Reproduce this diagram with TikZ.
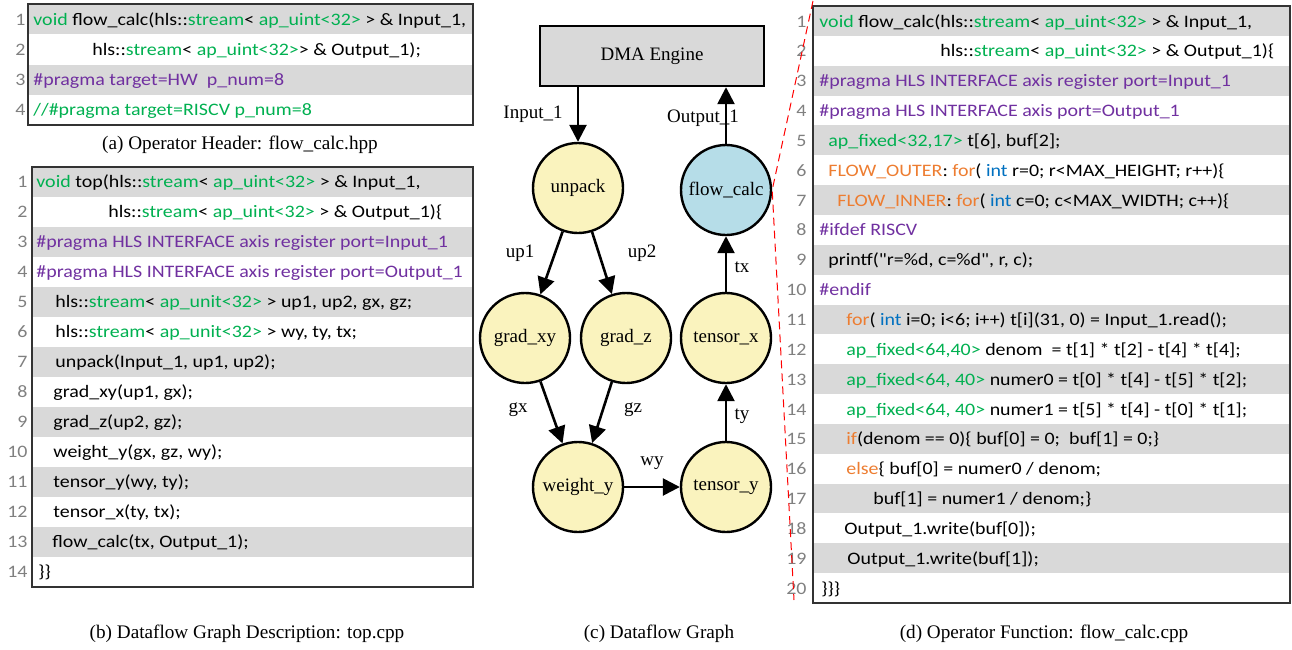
\documentclass[tikz,border=0pt]{standalone}
\usepackage{fontspec}
\setmainfont{Liberation Serif}
\newfontfamily\codefont[FakeStretch=1.14]{Carlito}
\usepackage{tikz}
\usetikzlibrary{positioning,arrows.meta}

\definecolor{rowgray}{RGB}{217,217,217}
\definecolor{kwgreen}{RGB}{0,176,80}
\definecolor{kwpurple}{RGB}{112,48,160}
\definecolor{kworange}{RGB}{237,125,49}
\definecolor{kwblue}{RGB}{0,112,192}
\definecolor{numgray}{RGB}{128,128,128}
\definecolor{opyellow}{RGB}{250,243,190}
\definecolor{opblue}{RGB}{182,221,232}

\newcommand{\cgreen}[1]{\textcolor{kwgreen}{#1}}
\newcommand{\cpurple}[1]{\textcolor{kwpurple}{#1}}
\newcommand{\corange}[1]{\textcolor{kworange}{#1}}
\newcommand{\cblue}[1]{\textcolor{kwblue}{#1}}

\begin{document}
\begin{tikzpicture}[x=0.5pt, y=-0.5pt,
  codeline/.style={anchor=base west, inner sep=0pt, font={\codefont\fontsize{8.75pt}{10pt}\selectfont}},
  linenum/.style={anchor=base east, inner sep=0pt, text=numgray, font={\codefont\fontsize{8.75pt}{10pt}\selectfont}},
  opnode/.style={circle, draw, line width=1.2pt, fill=opyellow, minimum size=45pt, inner sep=0pt, font={\fontsize{9.5pt}{11pt}\selectfont}},
  dataflow/.style={-{Triangle[length=8.5pt,width=8.5pt]}, line width=1.3pt},
  flowlabel/.style={inner sep=0pt, font={\fontsize{9.5pt}{11pt}\selectfont}},
  subcaption/.style={inner sep=0pt, font={\fontsize{9.6pt}{11pt}\selectfont}}]

\useasboundingbox (0,0) rectangle (1292,649);

% (a) operator header
\foreach \i in {1,3}
  \fill [rowgray] (28,{4+(\i-1)*30.25}) rectangle (473,{4+\i*30.25});
\foreach \i in {1,...,4}
  \node [linenum] (na\i) at (26,{25+(\i-1)*30.25}) {\i};
\draw [line width=0.8pt, black!80] (28,4) rectangle (473,125);

\node [codeline] (a1) at (33,25) {\cgreen{void} flow\_calc(hls::\cgreen{stream}< \cgreen{ap\_uint<32>} > \& Input\_1,};
\node [codeline] (a2) at (92,55.25) {hls::\cgreen{stream}< \cgreen{ap\_uint<32>}> \& Output\_1);};
\node [codeline] (a3) at (33,85.5) {\cpurple{\#pragma target=HW\ \ p\_num=8}};
\node [codeline] (a4) at (33,115.75) {\cgreen{//\#pragma target=RISCV p\_num=8}};

\node [subcaption] (capa) at (240,145) {(a) Operator Header: flow\_calc.hpp};

% (b) top.cpp
\foreach \i in {1,3,...,13}
  \fill [rowgray] (32,{167+(\i-1)*30}) rectangle (473,{167+\i*30});
\foreach \i in {1,...,14}
  \node [linenum] (nb\i) at (28,{187+(\i-1)*30}) {\i};
\draw [line width=0.8pt, black!80] (32,167) rectangle (473,587);

\node [codeline] (b1) at (36,187) {\cgreen{void} top(hls::\cgreen{stream}< \cgreen{ap\_uint<32>} > \& Input\_1,};
\node [codeline] (b2) at (108,217) {hls::\cgreen{stream}< \cgreen{ap\_uint<32>} > \& Output\_1)\{};
\node [codeline] (b3) at (36,247) {\cpurple{\#pragma HLS INTERFACE axis register port=Input\_1}};
\node [codeline] (b4) at (36,277) {\cpurple{\#pragma HLS INTERFACE axis register port=Output\_1}};
\node [codeline] (b5) at (55,307) {hls::\cgreen{stream}< \cgreen{ap\_unit<32>} > up1, up2, gx, gz;};
\node [codeline] (b6) at (55,337) {hls::\cgreen{stream}< \cgreen{ap\_unit<32>} > wy, ty, tx;};
\node [codeline] (b7) at (55,367) {unpack(Input\_1, up1, up2);};
\node [codeline] (b8) at (53,397) {grad\_xy(up1, gx);};
\node [codeline] (b9) at (53,427) {grad\_z(up2, gz);};
\node [codeline] (b10) at (53,457) {weight\_y(gx, gz, wy);};
\node [codeline] (b11) at (53,487) {tensor\_y(wy, ty);};
\node [codeline] (b12) at (53,517) {tensor\_x(ty, tx);};
\node [codeline] (b13) at (52,547) {flow\_calc(tx, Output\_1);};
\node [codeline] (b14) at (38,577) {\}\}};

\node [subcaption] (capb) at (247,634) {(b) Dataflow Graph Description: top.cpp};

% (c) dataflow graph
\node [rectangle, draw, line width=1.2pt, fill=rowgray, minimum width=112pt, minimum height=30pt,
  font={\fontsize{9.5pt}{11pt}\selectfont}] (dma) at (652,56) {DMA Engine};

\node [opnode] (unpack) at (578,188) {unpack};
\node [opnode, fill=opblue] (flowcalc) at (726,190) {flow\_calc};
\node [opnode] (gradxy) at (525,338) {grad\_xy};
\node [opnode] (gradz) at (626,338) {grad\_z};
\node [opnode] (tensorx) at (726,338) {tensor\_x};
\node [opnode] (weighty) at (578,487) {weight\_y};
\node [opnode] (tensory) at (726,487) {tensor\_y};

\draw [dataflow] (dma.south -| unpack) -- node [flowlabel, xshift=-22.5pt] (lin) {Input\_1} (unpack);
\draw [dataflow] (flowcalc) -- node [flowlabel, xshift=-11.5pt, yshift=-1.25pt] (lout) {Output\_1} (dma.south -| flowcalc);
\draw [dataflow] (unpack) -- node [flowlabel, xshift=-15.75pt, yshift=5pt] (lup1) {up1} (gradxy);
\draw [dataflow] (unpack) -- node [flowlabel, xshift=20pt, yshift=5pt] (lup2) {up2} (gradz);
\draw [dataflow] (gradxy) -- node [flowlabel, xshift=-16.75pt, yshift=1.25pt] (lgx) {gx} (weighty);
\draw [dataflow] (gradz) -- node [flowlabel, xshift=15.5pt, yshift=1.25pt] (lgz) {gz} (weighty);
\draw [dataflow] (weighty) -- node [flowlabel, yshift=12pt] (lwy) {wy} (tensory);
\draw [dataflow] (tensory) -- node [flowlabel, xshift=8pt, yshift=-1.75pt] (lty) {ty} (tensorx);
\draw [dataflow] (tensorx) -- node [flowlabel, xshift=8pt, yshift=-1.5pt] (ltx) {tx} (flowcalc);

\node [subcaption] (capc) at (659,634) {(c) Dataflow Graph};

% (d) flow_calc.cpp
\foreach \i in {1,3,...,19}
  \fill [rowgray] (813,{6+(\i-1)*29.85}) rectangle (1290,{6+\i*29.85});
\foreach \i in {1,...,20}
  \node [linenum] (nd\i) at (807,{27+(\i-1)*29.85}) {\i};
\draw [line width=0.8pt, black!80] (813,6) rectangle (1290,603);

\node [codeline] (d1) at (819,27) {\cgreen{void} flow\_calc(hls::\cgreen{stream}< \cgreen{ap\_uint<32>} > \& Input\_1,};
\node [codeline] (d2) at (940,56.85) {hls::\cgreen{stream}< \cgreen{ap\_uint<32>} > \& Output\_1)\{};
\node [codeline] (d3) at (819,86.7) {\cpurple{\#pragma HLS INTERFACE axis register port=Input\_1}};
\node [codeline] (d4) at (819,116.55) {\cpurple{\#pragma HLS INTERFACE axis port=Output\_1}};
\node [codeline] (d5) at (828,146.4) {\cgreen{ap\_fixed<32,17>} t[6], buf[2];};
\node [codeline] (d6) at (828,176.25) {\corange{FLOW\_OUTER}: \corange{for}( \cblue{int} r=0; r<MAX\_HEIGHT; r++)\{};
\node [codeline] (d7) at (837,206.1) {\corange{FLOW\_INNER}: \corange{for}( \cblue{int} c=0; c<MAX\_WIDTH; c++)\{};
\node [codeline] (d8) at (819,235.95) {\cpurple{\#ifdef RISCV}};
\node [codeline] (d9) at (828,265.8) {printf("r=\%d, c=\%d", r, c);};
\node [codeline] (d10) at (819,295.65) {\cpurple{\#endif}};
\node [codeline] (d11) at (846,325.5) {\corange{for}( \cblue{int} i=0; i<6; i++) t[i](31, 0) = Input\_1.read();};
\node [codeline] (d12) at (846,355.35) {\cgreen{ap\_fixed<64,40>} denom\ \ = t[1] * t[2] - t[4] * t[4];};
\node [codeline] (d13) at (846,385.2) {\cgreen{ap\_fixed<64, 40>} numer0 = t[0] * t[4] - t[5] * t[2];};
\node [codeline] (d14) at (846,415.05) {\cgreen{ap\_fixed<64, 40>} numer1 = t[5] * t[4] - t[0] * t[1];};
\node [codeline] (d15) at (846,444.9) {\corange{if}(denom == 0)\{ buf[0] = 0;\ \ buf[1] = 0;\}};
\node [codeline] (d16) at (846,474.75) {\corange{else}\{ buf[0] = numer0 / denom;};
\node [codeline] (d17) at (873,504.6) {buf[1] = numer1 / denom;\}};
\node [codeline] (d18) at (844,534.45) {Output\_1.write(buf[0]);};
\node [codeline] (d19) at (847,564.3) {Output\_1.write(buf[1]);};
\node [codeline] (d20) at (821,594.15) {\}\}\}};

\node [subcaption] (capd) at (1044,634) {(d) Operator Function: flow\_calc.cpp};

% zoom lines
\coordinate (zoomtop) at (813,1);
\coordinate (zoombot) at (794,600);
\draw [red, line width=0.5pt, dash pattern=on 4pt off 2.5pt] (zoomtop) -- (flowcalc.east) -- (zoombot);

\end{tikzpicture}
\end{document}
